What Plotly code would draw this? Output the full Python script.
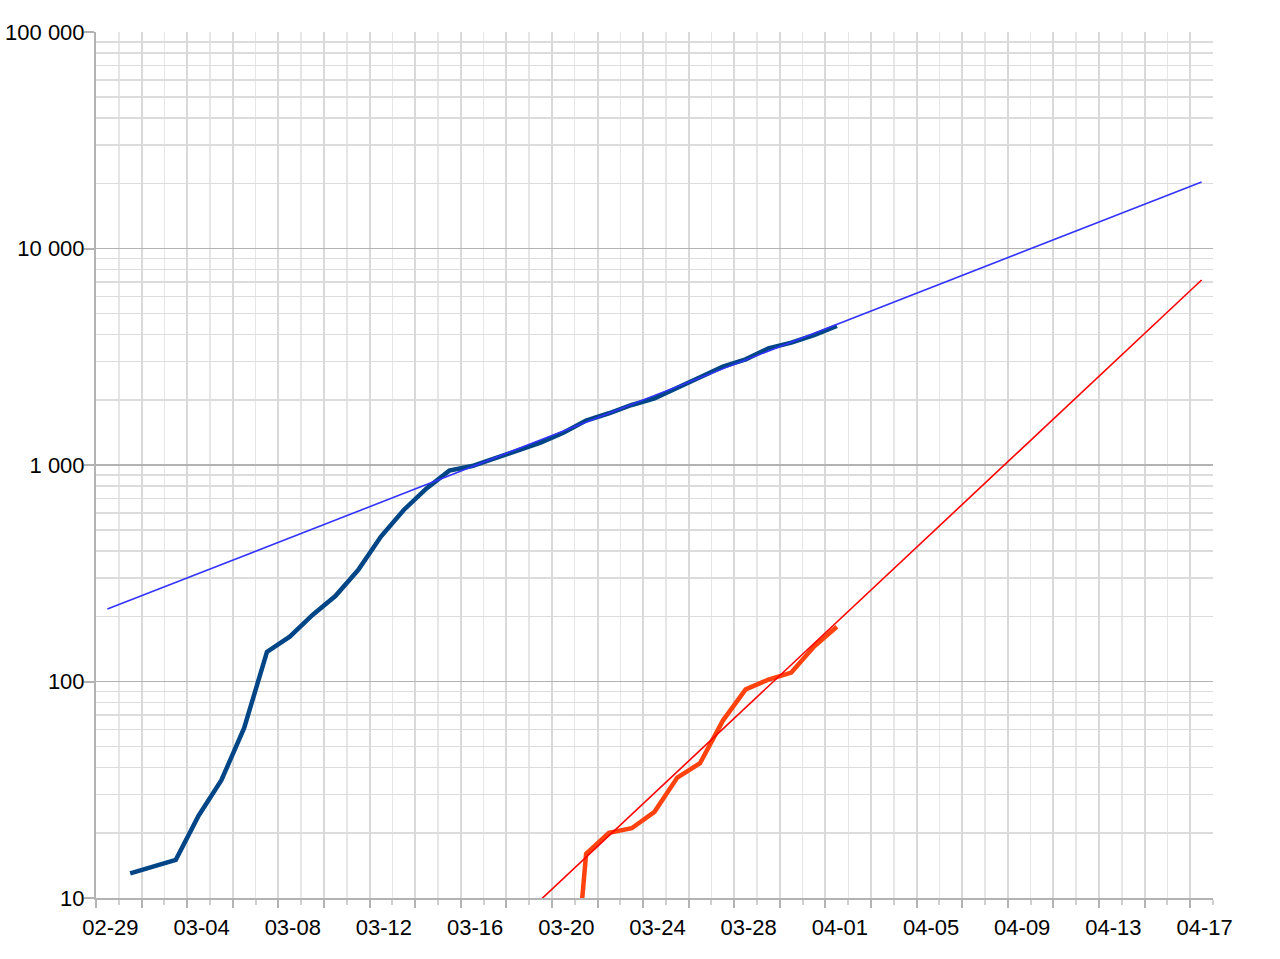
import plotly.graph_objects as go

# Series 1 (dark blue)
blue_dates = ["2020-03-01", "2020-03-02", "2020-03-03", "2020-03-04", "2020-03-05",
              "2020-03-06", "2020-03-07", "2020-03-08", "2020-03-09", "2020-03-10",
              "2020-03-11", "2020-03-12", "2020-03-13", "2020-03-14", "2020-03-15",
              "2020-03-16", "2020-03-17", "2020-03-18", "2020-03-19", "2020-03-20",
              "2020-03-21", "2020-03-22", "2020-03-23", "2020-03-24", "2020-03-25",
              "2020-03-26", "2020-03-27", "2020-03-28", "2020-03-29", "2020-03-30",
              "2020-03-31", "2020-04-01"]
blue_values = [13, 14, 15, 24, 35, 61, 137, 161, 203, 248, 327, 467, 620, 780, 942,
               989, 1074, 1173, 1268, 1409, 1603, 1734, 1893, 2032, 2285, 2543, 2845,
               3076, 3458, 3672, 3981, 4385]

# Series 2 (orange-red)
red_dates = ["2020-03-20", "2020-03-21", "2020-03-22", "2020-03-23", "2020-03-24",
             "2020-03-25", "2020-03-26", "2020-03-27", "2020-03-28", "2020-03-29",
             "2020-03-30", "2020-03-31", "2020-04-01"]
red_values = [1, 16, 20, 21, 25, 36, 42, 66, 92, 102, 110, 145, 179]

# Exponential trend lines (end points)
blue_trend_dates = ["2020-02-29", "2020-04-17"]
blue_trend_values = [216, 20300]
red_trend_dates = ["2020-03-19", "2020-04-17"]
red_trend_values = [9.8, 7150]

# Axis ticks
y_tickvals = [10, 100, 1000, 10000, 100000]
y_ticktext = ["10", "100", "1 000", "10 000", "100 000"]
y_minor_vals = [m * 10 ** e for e in range(1, 5) for m in range(2, 10)]

x_range = ["2020-02-28 12:00", "2020-04-17 12:00"]
DAY = 86400000

FONT = "Liberation Sans, Arial, sans-serif"
AXIS_GRAY = "#b3b3b3"

fig = go.Figure()

fig.add_trace(go.Scatter(x=blue_dates, y=blue_values, mode="lines",
                         line=dict(color="#004586", width=4.5), xaxis="x", yaxis="y",
                         hoverinfo="skip"))
fig.add_trace(go.Scatter(x=red_dates, y=red_values, mode="lines",
                         line=dict(color="#ff420e", width=4.5), xaxis="x", yaxis="y",
                         hoverinfo="skip"))
fig.add_trace(go.Scatter(x=blue_trend_dates, y=blue_trend_values, mode="lines",
                         line=dict(color="#3333ff", width=1.6), xaxis="x2", yaxis="y",
                         hoverinfo="skip"))
fig.add_trace(go.Scatter(x=red_trend_dates, y=red_trend_values, mode="lines",
                         line=dict(color="#ff0000", width=1.6), xaxis="x2", yaxis="y",
                         hoverinfo="skip"))

fig.update_layout(
    width=1280, height=959,
    margin=dict(l=96, r=67, t=32, b=61, autoexpand=False),
    paper_bgcolor="white", plot_bgcolor="white",
    showlegend=False,
    font=dict(family=FONT, size=22, color="black"),
    xaxis=dict(
        type="date", range=x_range, automargin=False,
        tickmode="linear", tick0="2020-02-28 12:00", dtick=2 * DAY,
        showticklabels=False,
        ticks="outside", ticklen=8, tickwidth=2, tickcolor=AXIS_GRAY,
        showgrid=True, gridcolor="#d9d9d9", gridwidth=2,
        showline=True, linecolor=AXIS_GRAY, linewidth=2,
        zeroline=False,
        minor=dict(tick0="2020-02-28 12:00", dtick=DAY, ticks="outside", ticklen=5,
                   tickwidth=2, tickcolor="#cfcfcf",
                   showgrid=True, gridcolor="#e6e6e6", gridwidth=1.5),
    ),
    xaxis2=dict(
        type="date", range=x_range, overlaying="x", anchor="y", side="bottom",
        automargin=False,
        tickmode="linear", tick0="2020-02-29", dtick=4 * DAY, tickformat="%m-%d",
        ticks="", showgrid=False, showline=False, zeroline=False,
        tickfont=dict(family=FONT, size=22, color="black"),
        ticklabelstandoff=14, ticklabelshift=3,
    ),
    yaxis=dict(
        type="log", range=[1, 5], automargin=False,
        tickmode="array", tickvals=y_tickvals, ticktext=y_ticktext,
        ticks="outside", ticklen=10, tickwidth=2, tickcolor=AXIS_GRAY,
        showgrid=True, gridcolor=AXIS_GRAY, gridwidth=1.5,
        showline=True, linecolor=AXIS_GRAY, linewidth=2,
        zeroline=False,
        tickfont=dict(family=FONT, size=22, color="black"),
        ticklabelstandoff=-5,
        minor=dict(tickmode="array", tickvals=y_minor_vals, ticks="",
                   showgrid=True, gridcolor="#dcdcdc", gridwidth=1.5),
    ),
)

# remove the default page margin so the 1280x959 figure fills the window exactly
fig.write_html("out.html",
               config={"displayModeBar": False, "staticPlot": True},
               post_script="document.body.style.margin='0';document.body.style.overflow='hidden';")
